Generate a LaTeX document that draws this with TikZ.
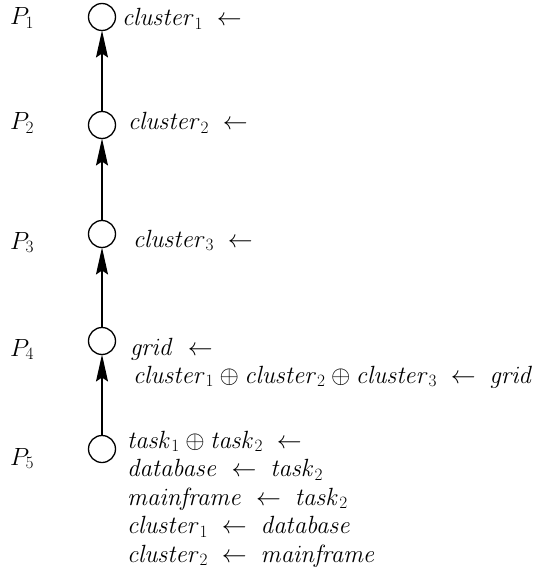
\documentclass[tikz,border=0pt]{standalone}
\usetikzlibrary{arrows.meta}
\begin{document}
\begin{tikzpicture}[x=1pt,y=-1pt,
  every node/.style={font=\fontsize{23.6}{28.5}\selectfont, inner sep=0pt, outer sep=0pt},
  txt/.style={anchor=base west},
  proc/.style={circle, draw, line width=1.3pt, minimum size=27pt, inner sep=0pt},
  edge/.style={line width=1.3pt, -{Stealth[length=27pt,width=12pt,inset=4pt]}}]
\useasboundingbox (0,0) rectangle (537,572);
% process circles
\node[proc] (c1) at (102,17) {};
\node[proc] (c2) at (102,125) {};
\node[proc] (c3) at (102,234) {};
\node[proc] (c4) at (102,341) {};
\node[proc] (c5) at (102,449) {};
% process labels
\node[txt] (p1) at (10,25) {$P_1$};
\node[txt] (p2) at (10,130) {$P_2$};
\node[txt] (p3) at (10,249) {$P_3$};
\node[txt] (p4) at (10,356) {$P_4$};
\node[txt] (p5) at (10,465) {$P_5$};
% right texts
\node[txt] (t1) at (122,26) {$\mathit{cluster}_1\;\leftarrow$};
\node[txt] (t2) at (128,130) {$\mathit{cluster}_2\;\leftarrow$};
\node[txt] (t3) at (133,247) {$\mathit{cluster}_3\;\leftarrow$};
\node[txt] (t4a) at (130,355) {$\mathit{grid}\;\leftarrow$};
\node[txt] (t4b) at (133,383) {$\mathit{cluster}_1\oplus\mathit{cluster}_2\oplus\mathit{cluster}_3\;\leftarrow\;\mathit{grid}$};
\node[txt] (t5a) at (127,448) {$\mathit{task}_1\oplus\mathit{task}_2\;\leftarrow$};
\node[txt] (t5b) at (127,476.5) {$\mathit{database}\;\leftarrow\;\mathit{task}_2$};
\node[txt] (t5c) at (127,505) {$\mathit{mainframe}\;\leftarrow\;\mathit{task}_2$};
\node[txt] (t5d) at (127,533.5) {$\mathit{cluster}_1\;\leftarrow\;\mathit{database}$};
\node[txt] (t5e) at (127,562) {$\mathit{cluster}_2\;\leftarrow\;\mathit{mainframe}$};
% connectors
\draw[edge] (c2.north) -- (c1.south);
\draw[edge] (c3.north) -- (c2.south);
\draw[edge] (c4.north) -- (c3.south);
\draw[edge] (c5.north) -- (c4.south);
\end{tikzpicture}
\end{document}
